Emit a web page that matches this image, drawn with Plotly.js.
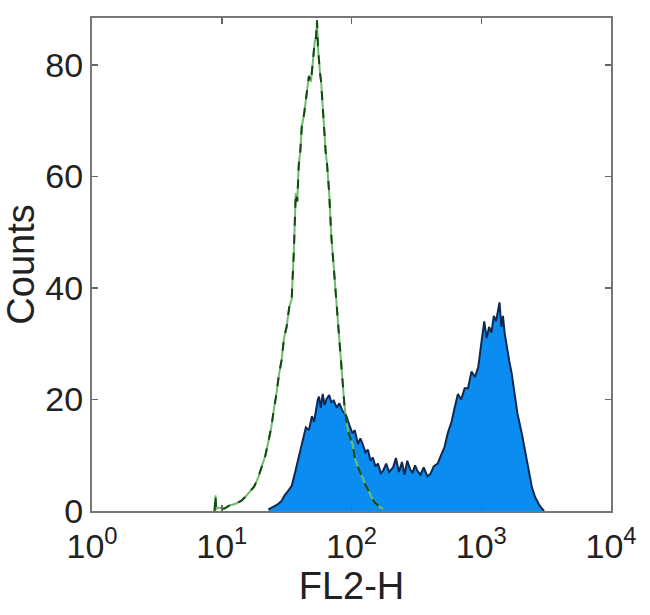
<!DOCTYPE html>
<html>
<head>
<meta charset="utf-8">
<script src="https://cdn.plot.ly/plotly-3.0.1.min.js"></script>
<style>html,body{margin:0;padding:0;background:#fff;}#chart{width:650px;height:615px;}</style>
</head>
<body>
<div id="chart"></div>
<script>
// Isotype control histogram (green outline)
const controlX = [8.8, 8.95, 9.05, 9.3, 10.4, 11.5, 12.8, 14.1, 15.3, 16.5, 17.8, 19.1, 20.4, 21.7, 22.9, 24.1, 25.2, 26.4, 27.6, 28.9, 30.2, 31.6, 33.1, 34.6, 36.0, 37.2, 38.2, 39.2, 40.3, 41.4, 43.0, 44.5, 45.7, 47.0, 48.7, 50.5, 52.0, 53.3, 54.2, 55.2, 56.2, 57.2, 58.3, 59.9, 61.5, 63.2, 64.9, 67.3, 69.8, 72.3, 74.3, 76.4, 79.9, 83.5, 85.8, 88.2, 91.5, 94.8, 98.2, 101.8, 106, 111, 116, 122, 127, 133, 139, 146, 153, 160, 167, 175];
const controlY = [0, 2.8, 0.3, 0.6, 0.4, 1.0, 1.3, 1.8, 2.6, 3.5, 4.4, 6.0, 8.2, 10.0, 12.5, 15.0, 18.2, 21.0, 24.5, 27.0, 31.0, 33.0, 36.5, 38.0, 47.0, 57.0, 55.5, 62.0, 64.5, 69.0, 71.0, 74.0, 76.5, 78.0, 77.0, 81.0, 84.0, 85.0, 88.0, 83.0, 80.0, 78.5, 77.0, 72.0, 68.0, 64.5, 62.0, 57.0, 49.5, 45.0, 41.0, 38.0, 31.0, 26.0, 22.5, 19.0, 16.0, 14.0, 13.0, 12.0, 9.5, 8.0, 7.0, 6.0, 4.8, 4.0, 3.0, 2.0, 1.4, 1.0, 0.6, 0.3];

// Stained sample histogram (blue fill)
const sampleX = [22.9, 25, 27, 28.9, 30.5, 32.5, 34.6, 36.8, 39.2, 41.8, 44.5, 47, 49.5, 51.5, 53.3, 55, 56.2, 58, 60, 62, 64, 67.3, 70, 73, 77, 80.6, 85, 91.4, 96, 101.8, 106, 112, 117, 122, 128, 134, 140, 146, 153, 160, 168, 175, 185, 195, 209, 220, 232, 245, 256, 269, 283, 295, 309, 322, 340, 360, 385, 407, 430, 461, 490, 520, 552, 590, 625, 661, 700, 745, 791, 840, 895, 948, 1000, 1055, 1100, 1150, 1198, 1250, 1300, 1383, 1430, 1470, 1513, 1580, 1640, 1715, 1800, 1900, 2054, 2200, 2330, 2460, 2600, 2780, 2943, 3050];
const sampleY = [0.3, 0.8, 1.2, 1.8, 2.8, 3.6, 4.5, 7.0, 9.6, 12.0, 15.0, 14.5, 17.0, 16.0, 18.5, 20.0, 20.5, 18.5, 21.0, 19.0, 20.0, 20.8, 19.5, 19.8, 18.5, 19.3, 18.0, 17.0, 15.5, 13.9, 14.5, 12.0, 13.0, 12.0, 10.5, 11.0, 9.0, 9.6, 8.0, 8.5, 6.8, 7.2, 8.5, 7.0, 7.8, 9.5, 7.0, 8.8, 6.5, 9.0, 7.5, 6.8, 8.2, 7.2, 6.5, 7.8, 6.2, 6.7, 8.0, 8.5, 10.0, 11.4, 14.0, 16.0, 18.6, 21.0, 20.0, 22.0, 22.0, 25.0, 24.0, 25.8, 30.0, 34.0, 31.0, 33.0, 32.0, 35.0, 34.0, 37.4, 33.0, 35.0, 32.0, 29.0, 27.0, 24.7, 21.0, 17.5, 13.9, 10.0, 7.0, 4.2, 2.5, 1.2, 0.4, 0];

const xTickVals = [1, 10, 100, 1000, 10000];
const xTickText = ['10<sup>0</sup>', '10<sup>1</sup>', '10<sup>2</sup>', '10<sup>3</sup>', '10<sup>4</sup>'];
const yTickVals = [0, 20, 40, 60, 80];

const traces = [
  {x: sampleX, y: sampleY, type: 'scatter', mode: 'lines', fill: 'tozeroy',
   fillcolor: 'rgb(10,140,240)', line: {color: 'rgb(16,40,80)', width: 2}, hoverinfo: 'skip'},
  {x: controlX, y: controlY, type: 'scatter', mode: 'lines',
   line: {color: 'rgb(110,190,110)', width: 2}, hoverinfo: 'skip'},
  {x: controlX, y: controlY, type: 'scatter', mode: 'lines',
   line: {color: 'rgb(20,70,20)', width: 2, dash: 'dash'}, hoverinfo: 'skip'}
];

const font = {family: 'Liberation Sans, Arial, sans-serif', color: '#222'};
const layout = {
  width: 650, height: 615,
  margin: {l: 92, r: 39, t: 18, b: 104},
  paper_bgcolor: '#fff', plot_bgcolor: '#fff',
  showlegend: false,
  xaxis: {
    type: 'log', range: [0, 4],
    tickvals: xTickVals, ticktext: xTickText,
    ticks: 'inside', ticklen: 6, tickwidth: 1.5, tickcolor: '#666',
    showline: true, linecolor: '#777', linewidth: 2, mirror: 'ticks',
    showgrid: false, zeroline: false,
    ticklabelstandoff: 4,
    tickfont: Object.assign({size: 34}, font),
    title: {text: 'FL2-H', font: Object.assign({size: 38}, font), standoff: 7}
  },
  yaxis: {
    range: [0, 88.4],
    tickvals: yTickVals,
    ticks: 'inside', ticklen: 6, tickwidth: 1.5, tickcolor: '#666',
    showline: true, linecolor: '#777', linewidth: 2, mirror: 'ticks',
    showgrid: false, zeroline: false,
    tickfont: Object.assign({size: 34}, font),
    title: {text: 'Counts', font: Object.assign({size: 38}, font), standoff: 0}
  }
};
Plotly.newPlot('chart', traces, layout, {displayModeBar: false, staticPlot: true});
</script>
</body>
</html>
